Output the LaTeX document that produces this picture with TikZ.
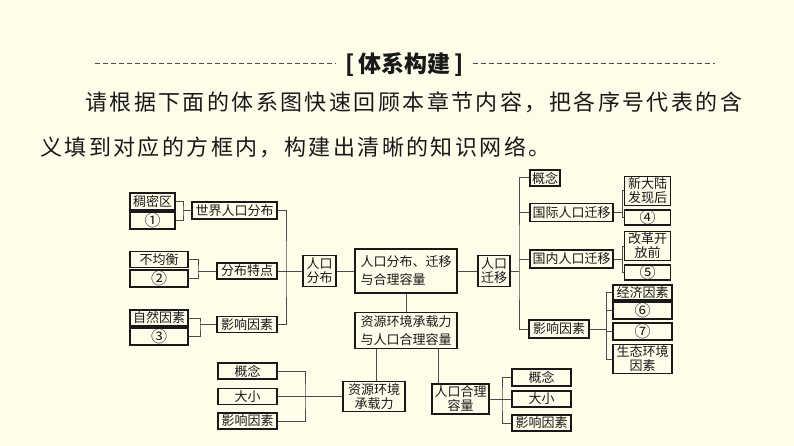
\documentclass[tikz,border=0pt]{standalone}
\usepackage{fontspec}
\newfontfamily\cjk{Noto Sans CJK SC}
\definecolor{bgcream}{RGB}{255,253,234}
\definecolor{linegray}{RGB}{75,75,75}
\definecolor{inkblack}{RGB}{25,25,25}

\begin{document}
\begin{tikzpicture}[x=1pt, y=-1pt,
		box/.style={draw=inkblack, line width=1.2pt, fill=bgcream, inner sep=0pt, align=center, text=inkblack, font=\cjk\fontsize{13}{14}\selectfont},
		numbox/.style={box, font=\cjk\fontsize{16}{16}\selectfont},
		twoline/.style={font=\cjk\fontsize{13}{18}\selectfont},
		link/.style={draw=linegray, line width=1pt},
		hdash/.style={draw=linegray, line width=0.9pt, dash pattern=on 5pt off 3pt},
		para/.style={anchor=west, inner sep=0pt, text=inkblack, font=\cjk\fontsize{22}{26}\selectfont\addfontfeature{LetterSpace=11}}]
	
	% fundo
	\fill[bgcream] (0,0) rectangle (794,446);
	
	% titulo e texto
	\node[inner xsep=9pt, inner ysep=0pt, text=inkblack, font=\cjk\bfseries\fontsize{23}{26}\selectfont] (titulo) at (404.5,65) {[\,体系构建\,]};
	\coordinate (dl) at (95,63);
	\coordinate (dr) at (715,63);
	\node[para] (linha1) at (85,102) {请根据下面的体系图快速回顾本章节内容，把各序号代表的含};
	\node[para] (linha2) at (40,147) {义填到对应的方框内，构建出清晰的知识网络。};
	
	% lado esquerdo
	\node[box, minimum width=45, minimum height=17] (ckq) at (152.5,201.5) {稠密区};
	\node[numbox, minimum width=45, minimum height=17] (q1) at (152.5,220.5) {①};
	\node[box, minimum width=85, minimum height=17] (sjfb) at (234.5,210.5) {世界人口分布};
	
	\node[box, minimum width=58, minimum height=16] (bjh) at (159,259.5) {不均衡};
	\node[numbox, minimum width=58, minimum height=17] (q2) at (159,278.5) {②};
	\node[box, minimum width=60, minimum height=16] (fbtd) at (247,271) {分布特点};
	
	\node[box, minimum width=58, minimum height=16] (zrys) at (159,318) {自然因素};
	\node[numbox, minimum width=58, minimum height=17] (q3) at (159,336.5) {③};
	\node[box, minimum width=60, minimum height=16] (yxys1) at (247,324.5) {影响因素};
	
	% centro
	\node[box, minimum width=33, minimum height=31] (rkfb) at (319.5,271) {人口\\分布};
	\node[box, twoline, align=left, minimum width=102, minimum height=44] (zx) at (406,271) {人口分布、迁移\\与合理容量};
	\node[box, minimum width=32, minimum height=31] (rkqy) at (494,271) {人口\\迁移};
	\node[box, twoline, minimum width=102, minimum height=36] (zyrk) at (406,330.5) {资源环境承载力\\与人口合理容量};
	
	% parte de baixo
	\node[box, minimum width=62, minimum height=30] (zycz) at (374,396.5) {资源环境\\承载力};
	\node[box, minimum width=57, minimum height=30] (rkhl) at (460.5,399) {人口合理\\容量};
	
	\node[box, minimum width=59, minimum height=16] (gn1) at (247.5,371) {概念};
	\node[box, minimum width=59, minimum height=16] (dx1) at (247.5,396.5) {大小};
	\node[box, minimum width=59, minimum height=16] (yx1) at (247.5,421) {影响因素};
	
	\node[box, minimum width=59, minimum height=17] (gn2) at (541.5,377.5) {概念};
	\node[box, minimum width=59, minimum height=16] (dx2) at (541.5,399) {大小};
	\node[box, minimum width=59, minimum height=16] (yx2) at (541.5,423) {影响因素};
	
	% lado direito
	\node[box, minimum width=30, minimum height=16] (gn3) at (545,178) {概念};
	\node[box, minimum width=83, minimum height=18] (gjqy) at (571.5,212.5) {国际人口迁移};
	\node[box, minimum width=46, minimum height=29] (xdl) at (647.5,191) {新大陆\\发现后};
	\node[numbox, minimum width=46, minimum height=15] (q4) at (647.5,217.5) {④};
	
	\node[box, minimum width=83, minimum height=18] (gnqy) at (571.5,259) {国内人口迁移};
	\node[box, minimum width=46, minimum height=29] (ggk) at (647.5,246) {改革开\\放前};
	\node[numbox, minimum width=46, minimum height=15] (q5) at (647.5,272.5) {⑤};
	
	\node[box, minimum width=60, minimum height=18] (yxys2) at (559,329) {影响因素};
	\node[box, minimum width=59, minimum height=15] (jjys) at (642.5,292.5) {经济因素};
	\node[numbox, minimum width=59, minimum height=17] (q6) at (642.5,310.5) {⑥};
	\node[numbox, minimum width=59, minimum height=17] (q7) at (642.5,331.5) {⑦};
	\node[box, minimum width=59, minimum height=29] (stys) at (642.5,359) {生态环境\\因素};
	
	% pontos de juncao
	\coordinate (j1) at (183,210.5);
	\coordinate (j2) at (198,271);
	\coordinate (j3) at (200,324.5);
	\coordinate (j4) at (286,271);
	\coordinate (j5) at (519,271);
	\coordinate (j6) at (622,212.5);
	\coordinate (j7) at (622,259);
	\coordinate (j8) at (606,329);
	\coordinate (j9) at (305,396.5);
	\coordinate (j10) at (502,399);
	
	% linhas
	\draw[hdash] (dl) -- (dl -| titulo.west);
	\draw[hdash] (dr -| titulo.east) -- (dr);
	
	\draw[link] (ckq.east) -| (j1) |- (q1.east);
	\draw[link] (j1) -- (sjfb.west);
	\draw[link] (bjh.east) -| (j2) |- (q2.east);
	\draw[link] (j2) -- (fbtd.west);
	\draw[link] (zrys.east) -| (j3) |- (q3.east);
	\draw[link] (j3) -- (yxys1.west);
	\draw[link] (sjfb.east) -| (j4) |- (yxys1.east);
	\draw[link] (fbtd.east) -- (rkfb.west);
	
	\draw[link] (rkfb.east) -- (zx.west);
	\draw[link] (zx.east) -- (rkqy.west);
	\draw[link] (zx.south) -- (zyrk.north);
	
	\draw[link] (gn3.west) -| (j5) |- (yxys2.west);
	\draw[link] (rkqy.east) -- (j5);
	\draw[link] (gjqy.west) -- (gjqy.west -| j5);
	\draw[link] (gnqy.west) -- (gnqy.west -| j5);
	\draw[link] (xdl.west) -| (j6) |- (q4.west);
	\draw[link] (gjqy.east) -- (j6);
	\draw[link] (ggk.west) -| (j7) |- (q5.west);
	\draw[link] (gnqy.east) -- (j7);
	\draw[link] (jjys.west) -| (j8) |- (stys.west);
	\draw[link] (yxys2.east) -- (j8);
	\draw[link] (q6.west) -- (q6.west -| j8);
	\draw[link] (q7.west) -- (q7.west -| j8);
	
	\draw[link] ([xshift=2pt]zycz.north) -- ([xshift=2pt]zycz.north |- zyrk.south);
	\draw[link] ([xshift=-22.5pt]rkhl.north) -- ([xshift=-22.5pt]rkhl.north |- zyrk.south);
	\draw[link] (gn1.east) -| (j9) |- (yx1.east);
	\draw[link] (dx1.east) -- (zycz.west);
	\draw[link] (gn2.west) -| (j10) |- (yx2.west);
	\draw[link] (rkhl.east) -- (dx2.west);
	
\end{tikzpicture}
\end{document}
